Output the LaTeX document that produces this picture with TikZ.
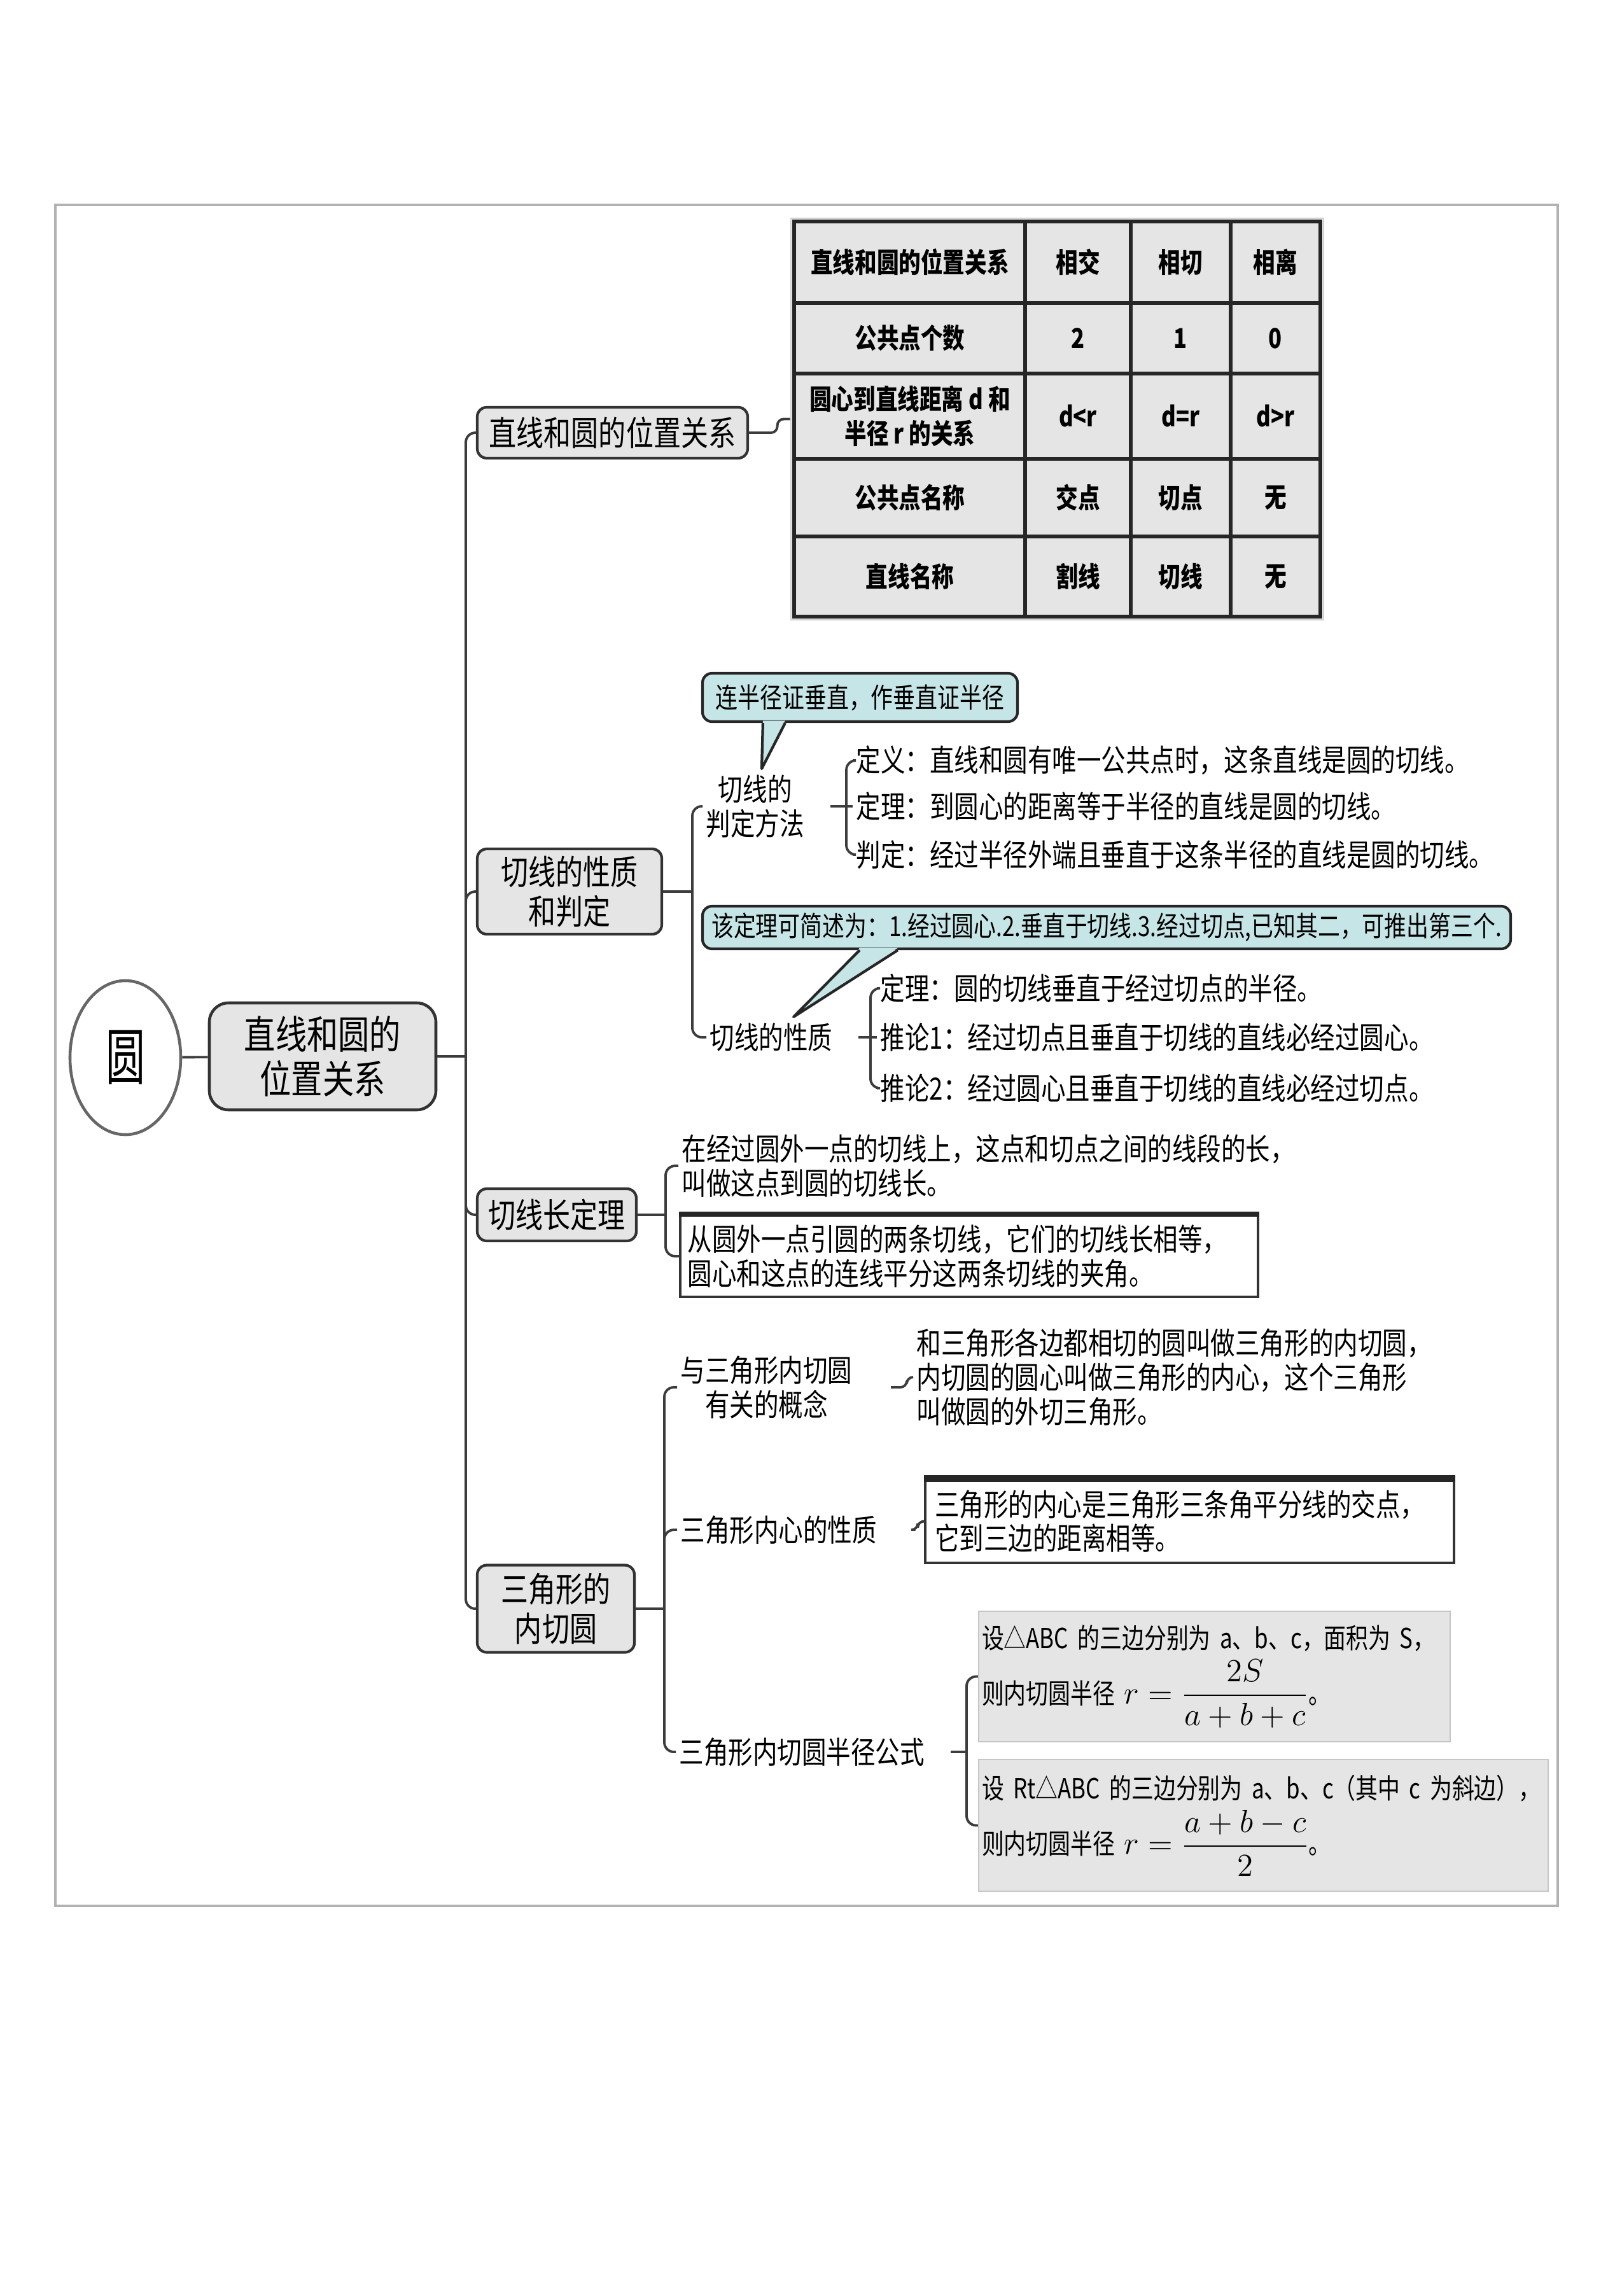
\documentclass[tikz,border=0pt]{standalone}
\usepackage{amsmath}
\usepackage{fontspec}
\setmainfont{Noto Sans CJK SC}[FakeStretch=0.8]
\usepackage{tikz}
\usetikzlibrary{shapes.geometric}
\definecolor{tipcyan}{HTML}{C6E5E7}
\definecolor{linkgray}{HTML}{3C3C3C}

\begin{document}
\begin{tikzpicture}[
  outerframe/.style={draw=gray!60, line width=0.9pt},
  rootell/.style ={ellipse, draw=black!60, line width=1.3pt, fill=white,
                   minimum width=1.74cm, minimum height=2.42cm, inner sep=0pt,
                   font=\fontsize{22}{24}\selectfont},
  topbox/.style  ={fill=gray!20, draw=black!80, line width=1.3pt,
                   rounded corners=3mm, align=center,
                   font=\fontsize{17.5}{20}\selectfont},
  branch/.style  ={fill=gray!20, draw=black!80, line width=1.2pt,
                   rounded corners=1.5mm, align=center, inner sep=0.5mm,
                   font=\fontsize{15.3}{17.5}\selectfont},
  subnode/.style ={anchor=west, inner sep=0.5mm, align=center,
                   font=\fontsize{13.7}{15.3}\selectfont},
  leaf/.style    ={anchor=west, inner sep=0.5mm, align=left,
                   font=\fontsize{13.7}{15.3}\selectfont},
  tipbox/.style  ={fill=tipcyan, draw=black!85, line width=1.2pt,
                   rounded corners=1.5mm, inner sep=0.5mm,
                   font=\fontsize{12.4}{14}\selectfont},
  tail/.style    ={draw=black!85, line width=1.2pt, line join=round},
  notebox/.style ={fill=white, draw=black!80, line width=1pt, align=left,
                   font=\fontsize{13.7}{15.3}\selectfont},
  formbox/.style ={fill=gray!20, draw=gray!45, line width=0.7pt, align=left,
                   inner xsep=0.5mm, font=\fontsize{12.4}{15}\selectfont},
  tcell/.style   ={align=center, font=\fontsize{12.3}{15.5}\selectfont\bfseries},
  tblrule/.style ={draw=black!85, line width=1.6pt},
  link/.style    ={draw=linkgray, line width=1.1pt, rounded corners=1.5mm},
  stub/.style    ={link, shorten <=3.5mm}
]
  \useasboundingbox (0,0) rectangle (25.49,-36.08);
  \draw[outerframe] (0.87,-3.22) rectangle (24.48,-29.95);

  \node[rootell] (yuan) at (1.97,-16.62) {\scalebox{1}[1.25]{圆}};
  \node[topbox, minimum width=3.56cm, minimum height=1.68cm] (r2) at (5.07,-16.60)
       {直线和圆的\\位置关系};
  \draw[link] (yuan) -- (r2);

  \node[branch, minimum width=4.25cm, minimum height=0.80cm] (b1) at (9.625,-6.80)  {直线和圆的位置关系};
  \node[branch, minimum width=2.90cm, minimum height=1.34cm] (b2) at (8.95,-14.01)  {切线的性质\\和判定};
  \node[branch, minimum width=2.50cm, minimum height=0.82cm] (b3) at (8.75,-19.09)  {切线长定理};
  \node[branch, minimum width=2.47cm, minimum height=1.37cm] (b4) at (8.735,-25.28) {三角形的\\内切圆};

  \coordinate (sp) at (7.32,-16.60);
  \draw[link] (r2.east) -- (sp);
  \draw[link] (sp) |- (b1.west);
  \draw[link] (sp) |- (b2.west);
  \draw[link] (sp) |- (b3.west);
  \draw[link] (sp) |- (b4.west);

  % table of the three cases
  \node[draw=gray!35, line width=0.8pt, minimum width=8.37cm, minimum height=6.31cm,
        inner sep=0pt] (tbl) at (16.615,-6.585) {};
  \fill[gray!20] (12.48,-3.48) rectangle (20.75,-9.69);
  \draw[tblrule] (12.48,-3.48) rectangle (20.75,-9.69)
    (16.11,-3.48) -- (16.11,-9.69)  (17.77,-3.48) -- (17.77,-9.69)
    (19.34,-3.48) -- (19.34,-9.69)
    (12.48,-4.76) -- (20.75,-4.76)  (12.48,-5.87) -- (20.75,-5.87)
    (12.48,-7.21) -- (20.75,-7.21)  (12.48,-8.43) -- (20.75,-8.43);
  \node[tcell] (rel)   at (14.30,-4.12)   {直线和圆的位置关系};
  \node[tcell] (xj)    at (16.94,-4.12)   {相交};
  \node[tcell] (xq)    at (18.555,-4.12)  {相切};
  \node[tcell] (xl)    at (20.045,-4.12)  {相离};
  \node[tcell] (num)   at (14.30,-5.315)  {公共点个数};
  \node[tcell] (numj)  at (16.94,-5.315)  {2};
  \node[tcell] (numq)  at (18.555,-5.315) {1};
  \node[tcell] (numl)  at (20.045,-5.315) {0};
  \node[tcell] (dist)  at (14.30,-6.54)   {圆心到直线距离 d 和\\半径 r 的关系};
  \node[tcell] (distj) at (16.94,-6.54)   {d<r};
  \node[tcell] (distq) at (18.555,-6.54)  {d=r};
  \node[tcell] (distl) at (20.045,-6.54)  {d>r};
  \node[tcell] (pt)    at (14.30,-7.82)   {公共点名称};
  \node[tcell] (ptj)   at (16.94,-7.82)   {交点};
  \node[tcell] (ptq)   at (18.555,-7.82)  {切点};
  \node[tcell] (ptl)   at (20.045,-7.82)  {无};
  \node[tcell] (ln)    at (14.30,-9.06)   {直线名称};
  \node[tcell] (lnj)   at (16.94,-9.06)   {割线};
  \node[tcell] (lnq)   at (18.555,-9.06)  {切线};
  \node[tcell] (lnl)   at (20.045,-9.06)  {无};
  \draw[link, rounded corners=1mm] (b1.east) -| ([xshift=-2mm]tbl.west) -- (tbl.west);

  % tangent: criteria and properties
  \node[subnode] (s21) at (11.04,-12.67) {切线的\\判定方法};
  \node[subnode] (s22) at (11.10,-16.30) {切线的性质};
  \coordinate (j2) at (10.88,-14.01);
  \draw[link] (b2.east) -- (j2);
  \draw[link] (j2) |- (s21.west);
  \draw[link] (j2) |- (s22.west);

  \node[leaf] (d1) at (13.40,-11.95) {定义：直线和圆有唯一公共点时，这条直线是圆的切线。};
  \node[leaf] (d2) at (13.40,-12.67) {定理：到圆心的距离等于半径的直线是圆的切线。};
  \node[leaf] (d3) at (13.40,-13.43) {判定：经过半径外端且垂直于这条半径的直线是圆的切线。};
  \coordinate (jd) at (13.30,-12.67);
  \draw[stub] (s21.east) -- (jd);
  \draw[link] (jd) |- (d1.west);
  \draw[link] (jd) -- (d2.west);
  \draw[link] (jd) |- (d3.west);

  \node[leaf] (p1) at (13.78,-15.53) {定理：圆的切线垂直于经过切点的半径。};
  \node[leaf] (p2) at (13.78,-16.30) {推论1：经过切点且垂直于切线的直线必经过圆心。};
  \node[leaf] (p3) at (13.78,-17.10) {推论2：经过圆心且垂直于切线的直线必经过切点。};
  \coordinate (jp) at (13.68,-16.30);
  \draw[stub] (s22.east) -- (jp);
  \draw[link] (jp) |- (p1.west);
  \draw[link] (jp) -- (p2.west);
  \draw[link] (jp) |- (p3.west);

  \node[tipbox, minimum width=4.95cm, minimum height=0.76cm] (c1) at (13.515,-10.96)
       {连半径证垂直，作垂直证半径};
  \coordinate (c1tip) at (11.97,-12.08);
  \fill[tipcyan] ([xshift=9.7mm, yshift=1pt]c1.south west) -- (c1tip)
                 -- ([xshift=13.2mm, yshift=1pt]c1.south west) -- cycle;
  \draw[tail] ([xshift=9.7mm]c1.south west) -- (c1tip) -- ([xshift=13.2mm]c1.south west);

  \node[tipbox, minimum width=12.70cm, minimum height=0.67cm] (c2) at (17.39,-14.575)
       {该定理可简述为：1.经过圆心.2.垂直于切线.3.经过切点,已知其二，可推出第三个.};
  \coordinate (c2tip) at (12.47,-15.98);
  \fill[tipcyan] ([xshift=24.9mm, yshift=1pt]c2.south west) -- (c2tip)
                 -- ([xshift=30.9mm, yshift=1pt]c2.south west) -- cycle;
  \draw[tail] ([xshift=24.9mm]c2.south west) -- (c2tip) -- ([xshift=30.9mm]c2.south west);

  % tangent length theorem
  \node[leaf] (t31) at (10.66,-18.32)
       {在经过圆外一点的切线上，这点和切点之间的线段的长，\\叫做这点到圆的切线长。};
  \node[notebox, anchor=west, text width=8.84cm, inner xsep=1.2mm, minimum height=1.28cm]
       (t32) at (10.67,-19.74)
       {从圆外一点引圆的两条切线，它们的切线长相等，\\圆心和这点的连线平分这两条切线的夹角。};
  \draw[line width=2.4pt, black!85] (t32.north west) -- (t32.north east);
  \coordinate (j3) at (10.46,-19.09);
  \draw[link] (b3.east) -- (j3);
  \draw[link] (j3) |- (t31.west);
  \draw[link] (j3) |- (t32.west);

  % inscribed circle
  \node[subnode] (s41) at (10.64,-21.80) {与三角形内切圆\\有关的概念};
  \node[subnode] (s42) at (10.64,-24.04) {三角形内心的性质};
  \node[subnode] (s43) at (10.62,-27.53) {三角形内切圆半径公式};
  \coordinate (j4) at (10.44,-25.28);
  \draw[link] (b4.east) -- (j4);
  \draw[link] (j4) |- (s41.west);
  \draw[link] (j4) |- (s42.west);
  \draw[link] (j4) |- (s43.west);

  \node[leaf] (t41) at (14.35,-21.64)
       {和三角形各边都相切的圆叫做三角形的内切圆，\\内切圆的圆心叫做三角形的内心，这个三角形\\叫做圆的外切三角形。};
  \draw[link, rounded corners=1mm, shorten <=5.5mm] (s41.east) -| ([xshift=-1mm]t41.west) -- (t41.west);

  \node[notebox, text width=8.01cm, inner xsep=1.5mm, minimum height=1.31cm] (t42) at (18.695,-23.905)
       {三角形的内心是三角形三条角平分线的交点，\\它到三边的距离相等。};
  \draw[line width=3pt, black!85] (t42.north west) -- (t42.north east);
  \draw[link, rounded corners=1mm, shorten <=5.5mm] (s42.east) -| ([xshift=-1mm]t42.west) -- (t42.west);

  \node[formbox, text width=7.31cm, minimum height=2.05cm] (f1) at (19.085,-26.345)
       {设△ABC~的三边分别为~a、b、c，面积为~S，\\[1mm]
        则内切圆半径~{\fontsize{14}{16}\selectfont$r=\dfrac{2S}{a+b+c}$}。};
  \node[formbox, text width=8.85cm, minimum height=2.07cm] (f2) at (19.855,-28.685)
       {设~Rt△ABC~的三边分别为~a、b、c（其中~c~为斜边），\\[1mm]
        则内切圆半径~{\fontsize{14}{16}\selectfont$r=\dfrac{a+b-c}{2}$}。};
  \coordinate (jf) at (15.19,-27.53);
  \draw[stub] (s43.east) -- (jf);
  \draw[link] (jf) |- (f1.west);
  \draw[link] (jf) |- (f2.west);
\end{tikzpicture}
\end{document}
